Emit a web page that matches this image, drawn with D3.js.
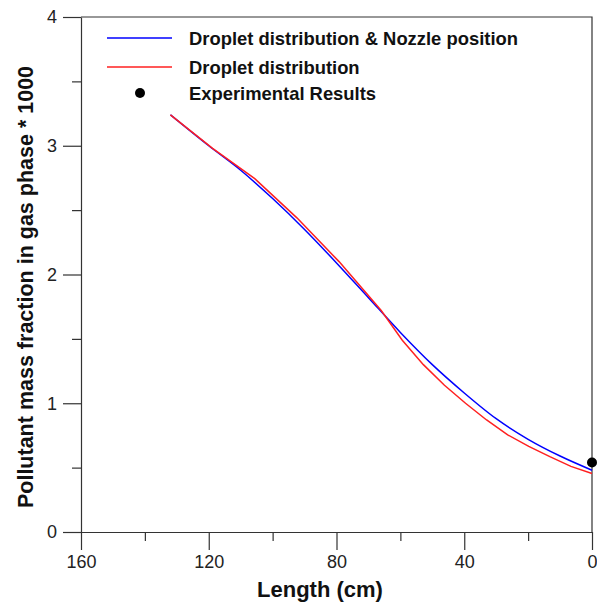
<!DOCTYPE html>
<html>
<head>
<meta charset="utf-8">
<script src="https://cdn.jsdelivr.net/npm/d3@7"></script>
<style>
  body { margin: 0; background: #fff; }
  text { font-family: "Liberation Sans", Arial, sans-serif; }
</style>
</head>
<body>
<div id="chart"></div>
<script>
// data
const blueX = [132, 120, 110, 100, 90, 80, 70, 60, 50, 40, 30, 20, 10, 0];
const blueY = [3.24, 3.00, 2.81, 2.59, 2.35, 2.09, 1.82, 1.55, 1.30, 1.08, 0.88, 0.72, 0.59, 0.48];

const redX = [132, 118.8, 105.6, 92.4, 79.2, 66, 59.4, 52.8, 46.2, 39.6, 33, 26.4, 19.8, 13.2, 6.6, 0];
const redY = [3.24, 2.98, 2.745, 2.44, 2.10, 1.72, 1.49, 1.30, 1.14, 1.00, 0.87, 0.755, 0.665, 0.585, 0.51, 0.455];

const expX = [0];
const expY = [0.54];

const xTicks = [160, 120, 80, 40, 0];
const xMinor = [140, 100, 60, 20];
const yTicks = [0, 1, 2, 3, 4];
const yMinor = [0.5, 1.5, 2.5, 3.5];

const legendLabels = ["Droplet distribution & Nozzle position", "Droplet distribution", "Experimental Results"];

const W = 597, H = 604;
const plot = { left: 81, right: 592, top: 17, bottom: 532 };
const axisColor = "#333";

const svg = d3.select("#chart").append("svg")
    .attr("width", W)
    .attr("height", H);

const x = d3.scaleLinear().domain([160, 0]).range([plot.left, plot.right]);
const y = d3.scaleLinear().domain([0, 4]).range([plot.bottom, plot.top]);

// frame (top + right)
svg.append("path")
    .attr("d", `M${plot.left},${plot.top}H${plot.right}V${plot.bottom}`)
    .attr("fill", "none")
    .attr("stroke", axisColor)
    .attr("stroke-width", 1.2);

// axes, major ticks long, minor short, all outward
svg.append("g")
    .attr("transform", `translate(0,${plot.bottom})`)
    .call(d3.axisBottom(x).tickValues(xTicks).tickFormat(d3.format("d")).tickSize(18).tickPadding(5).tickSizeOuter(0));
svg.append("g")
    .attr("transform", `translate(0,${plot.bottom})`)
    .call(d3.axisBottom(x).tickValues(xMinor).tickSize(9).tickFormat("").tickSizeOuter(0))
    .select(".domain").remove();

svg.append("g")
    .attr("transform", `translate(${plot.left},0)`)
    .call(d3.axisLeft(y).tickValues(yTicks).tickFormat(d3.format("d")).tickSize(18).tickPadding(6).tickSizeOuter(0));
svg.append("g")
    .attr("transform", `translate(${plot.left},0)`)
    .call(d3.axisLeft(y).tickValues(yMinor).tickSize(9).tickFormat("").tickSizeOuter(0))
    .select(".domain").remove();

svg.selectAll(".domain, .tick line")
    .attr("stroke", axisColor)
    .attr("stroke-width", 1.2);
svg.selectAll(".tick text")
    .attr("font-size", 18)
    .attr("fill", "#222")
    .style("font-family", "'Liberation Sans', Arial, sans-serif");

// axis titles
svg.append("text")
    .attr("x", 320)
    .attr("y", 597)
    .attr("text-anchor", "middle")
    .attr("font-size", 22)
    .attr("font-weight", "bold")
    .attr("fill", "#111")
    .text("Length (cm)");

svg.append("text")
    .attr("transform", "translate(33,287) rotate(-90)")
    .attr("text-anchor", "middle")
    .attr("font-size", 21.5)
    .attr("font-weight", "bold")
    .attr("fill", "#111")
    .text("Pollutant mass fraction in gas phase * 1000");

// lines
const line = d3.line()
    .x(d => x(d[0]))
    .y(d => y(d[1]));

svg.append("path")
    .datum(blueX.map((v, i) => [v, blueY[i]]))
    .attr("fill", "none")
    .attr("stroke", "#0000ff")
    .attr("stroke-width", 1.5)
    .attr("d", line.curve(d3.curveMonotoneX));

svg.append("path")
    .datum(redX.map((v, i) => [v, redY[i]]))
    .attr("fill", "none")
    .attr("stroke", "#ff2020")
    .attr("stroke-width", 1.5)
    .attr("d", line.curve(d3.curveLinear));

svg.selectAll(".exp")
    .data(expX.map((v, i) => [v, expY[i]]))
    .enter().append("circle")
    .attr("class", "exp")
    .attr("cx", d => x(d[0]))
    .attr("cy", d => y(d[1]))
    .attr("r", 5)
    .attr("fill", "#000");

// legend
const legend = svg.append("g");
const rows = [38, 67, 93];
legend.append("line").attr("x1", 107).attr("x2", 172).attr("y1", rows[0]).attr("y2", rows[0])
    .attr("stroke", "#0000ff").attr("stroke-width", 1.5);
legend.append("line").attr("x1", 107).attr("x2", 172).attr("y1", rows[1]).attr("y2", rows[1])
    .attr("stroke", "#ff2020").attr("stroke-width", 1.5);
legend.append("circle").attr("cx", 140).attr("cy", rows[2]).attr("r", 5).attr("fill", "#000");

legend.selectAll("text")
    .data(legendLabels)
    .enter().append("text")
    .attr("x", 189)
    .attr("y", (d, i) => rows[i] + 7)
    .attr("font-size", 18.4)
    .attr("font-weight", "bold")
    .attr("fill", "#111")
    .text(d => d);
</script>
</body>
</html>
